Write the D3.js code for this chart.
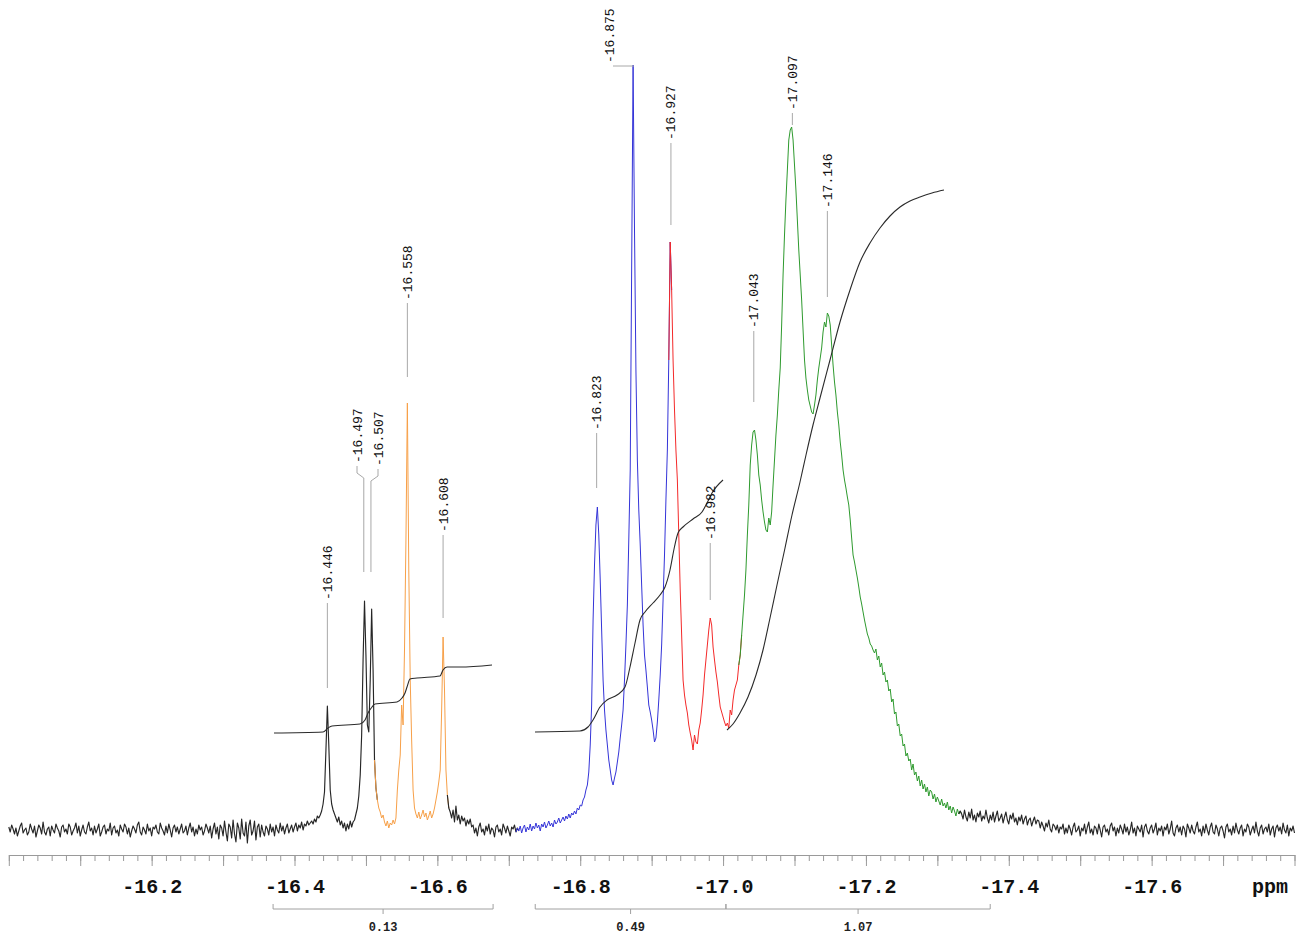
<!DOCTYPE html>
<html><head><meta charset="utf-8">
<script src="https://cdn.jsdelivr.net/npm/d3@7"></script>
<style>body{margin:0;background:#fff}svg{display:block}</style>
</head><body><svg id="c" width="1297" height="934"></svg>
<script>
// ---- data ----
const ppmStart = -16.0, ppmStep = -0.002;
const intensity = [
3,-2,5,1,-4,2,-6,-1,4,7,-3,0,2,-5,-2,6,1,-3,4,-7,
-1,5,2,-4,8,-2,-5,1,3,-6,4,0,-3,6,2,-1,-7,3,5,-2,
1,-4,6,3,-5,-1,2,7,-3,4,-6,0,5,-2,-4,3,8,-1,2,-5,
4,-3,1,6,-6,-2,3,5,-4,1,-1,7,-5,2,4,-3,0,-6,5,1,
-2,6,3,-4,2,-7,-1,4,1,-3,5,8,-2,-5,3,0,-4,6,-1,2,
-6,3,1,5,-2,-4,7,2,-1,-5,4,-3,6,0,-7,2,5,-2,3,-4,
1,6,-3,-1,4,-5,2,7,-2,3,-6,1,-4,5,0,3,-5,-1,6,2,
-3,4,-8,1,7,-4,3,-9,5,2,-6,9,-2,-11,6,3,-8,10,-4,-12,
7,2,-9,11,-3,-6,8,-13,4,10,-5,-1,9,-10,3,6,-7,5,-2,-6,
4,1,-5,6,-2,3,-6,5,0,-3,7,-1,4,-4,2,6,-3,1,5,-2,
3,7,-1,5,2,8,0,6,4,9,5,7,
9,6,11,8,14,12,15,19,26,38,80,124,85,40,26,20,16,12,8,13,5,9,2,7,-1,6,1,9,3,8,
10,16,22,34,55,95,170,229,175,105,98,150,221,160,70,42,30,22,18,
12,15,8,4,9,2,7,5,10,6,12,
40,60,75,125,105,180,290,427,260,150,90,40,22,
16,12,18,11,15,20,13,17,10,14,19,12,16,22,30,
38,48,60,120,193,140,60,35,22,
18,12,20,8,24,10,15,6,14,9,12,4,10,6,11,3,
5,-3,2,-6,3,7,-2,1,-5,4,-1,6,-4,2,0,-7,3,5,-2,1,-5,6,2,-3,4,-1,-6,3,1,5,-2,2,
-1,4,-3,2,5,-2,3,0,6,-1,4,1,7,2,5,-1,6,3,8,2,5,9,4,7,3,10,6,8,12,7,10,13,9,14,11,16,12,17,15,19,16,22,20,25,24,30,33,40,
45,58,85,125,210,265,305,323,295,250,200,150,120,100,85,70,60,50,45,52,58,68,78,92,105,120,
150,185,225,290,360,560,765,600,460,370,320,285,245,205,175,160,143,125,118,110,100,88,92,108,130,155,185,230,275,330,380,470,588,
540,470,420,380,350,295,240,195,150,135,125,117,105,97,90,80,95,88,86,100,107,120,135,155,170,185,200,212,205,183,170,158,148,135,123,118,113,108,104,107,102,120,115,130,140,145,150,165,175,
195,215,235,260,295,325,365,385,398,400,
390,375,355,345,330,318,308,300,298,312,
305,318,345,370,395,415,440,462,505,555,
595,630,660,690,700,703,690,665,640,610,
580,555,530,500,470,452,440,430,424,418,
416,425,435,450,462,472,482,498,508,503,
517,514,505,485,465,448,435,418,405,388,
375,360,350,342,333,325,310,292,275,268,
260,252,243,233,226,218,210,
203,196,192,186,184,180,177,181,170,174,
163,167,155,158,148,150,139,141,128,131,
116,118,104,106,94,96,84,86,74,77,
69,71,60,66,55,58,49,54,44,50,
41,46,38,43,34,40,
38,31,36,28,33,29,25,31,24,27,22,28,20,24,17,23,19,14,21,16,19,
16,11,20,13,9,18,12,21,10,15,8,17,13,19,9,14,11,20,12,7,
15,10,18,8,14,19,9,12,16,7,13,18,10,6,15,11,17,8,12,5,
13,9,15,6,11,14,5,10,12,4,9,13,6,10,
9,2,8,4,-1,7,3,10,1,-2,6,4,0,5,-3,3,1,6,-4,2,
-3,5,1,-5,3,7,-2,0,4,-6,2,-1,6,-4,3,8,-3,1,-5,4,
2,-4,6,0,-7,3,5,-2,1,-5,4,7,-1,3,-6,2,-3,5,1,-4,
6,-2,3,-5,0,8,-3,2,-6,4,1,-2,5,-7,3,6,-1,-4,2,5,
-3,1,7,-5,2,-1,4,-6,3,0,6,-4,1,9,-3,-6,2,5,-2,3,
-5,4,1,-7,6,2,-3,5,-1,-4,3,8,-2,1,-6,4,-3,6,0,-5,
3,7,-2,-4,5,1,-6,2,4,-1,-8,3,6,-2,1,-5,4,-3,7,0,
-4,2,5,-6,1,-2,6,3,-5,0,4,-3,8,-1,-6,2,5,-4,1,3,
-2,6,-5,1,4,-7,2,5,-1,3,-4,7,0,-3,5,-6,2,-1,4,-3
];
// ppm values where the trace colour changes
const colorBreaks = [-16.514, -16.615, -16.712, -16.926, -17.024, -17.332];

const peakPpm    = [-16.446, -16.497, -16.507, -16.558, -16.608, -16.823, -16.875, -16.927, -16.982, -17.043, -17.097, -17.146];
const peakLabels = ["-16.446","-16.497","-16.507","-16.558","-16.608","-16.823","-16.875","-16.927","-16.982","-17.043","-17.097","-17.146"];
const labelPpm   = [-16.446, -16.4875, -16.5169, -16.558, -16.608, -16.823, -16.8403, -16.927, -16.982, -17.043, -17.097, -17.146];
const labelBase  = [230, 367, 364, 530, 298, 400, 767, 690, 290, 502, 720, 622];
const leaderEnd  = [142, 258, 258, 453, 212, 342, 764, 605, 230, 428, 705, 533];

const integral1 = [[-16.3713,97],[-16.4399,98],[-16.4469,102],[-16.4525,104],[-16.4917,106],[-16.4987,110],[-16.5029,117],[-16.5085,123],[-16.5127,126],[-16.5435,128],[-16.5505,132],[-16.5547,137],[-16.5575,143],[-16.5617,151],[-16.5715,152],[-16.6037,154],[-16.6079,160],[-16.6135,163],[-16.6317,163],[-16.6765,165]];
const integral2 = [[-16.7367,98],[-16.7997,99],[-16.8109,103],[-16.8179,110],[-16.8277,123],[-16.8375,130],[-16.8515,135],[-16.8627,143],[-16.8697,163],[-16.8767,187],[-16.8837,210],[-16.8907,218],[-16.9019,227],[-16.9117,235],[-16.9187,243],[-16.9257,260],[-16.9319,283],[-16.9369,297],[-16.9439,303],[-16.9579,311],[-16.9705,318],[-16.9775,327],[-16.9845,337],[-16.9999,350]];
const integral3 = [[-17.0055,100],[-17.0139,106],[-17.0237,117],[-17.0349,133],[-17.0461,155],[-17.0559,180],[-17.0657,212],[-17.0755,245],[-17.0867,282],[-17.0965,315],[-17.1077,348],[-17.1161,375],[-17.1259,405],[-17.1357,432],[-17.1497,470],[-17.1637,508],[-17.1777,540],[-17.1917,568],[-17.2057,587],[-17.2197,602],[-17.2337,614],[-17.2477,623],[-17.2617,629],[-17.2757,633],[-17.2925,637],[-17.3093,640]];

const integralRanges = [[-16.370,-16.678],[-16.737,-17.004],[-17.004,-17.374]];
const integralValues = ["0.13","0.49","1.07"];

const tickLabelValues = [-16.2,-16.4,-16.6,-16.8,-17.0,-17.2,-17.4,-17.6];
const tickLabelText   = ["-16.2","-16.4","-16.6","-16.8","-17.0","-17.2","-17.4","-17.6"];
const axisUnit = "ppm";

// ---- drawing ----
const svg = d3.select("#c");
const x = d3.scaleLinear().domain([-16.0, -17.8]).range([8.8, 1294.5]);
const y = d3.scaleLinear().domain([0, 765]).range([830, 65]);
const MONO = "'Liberation Mono','Courier New',monospace";

const pts = intensity.map((v, i) => [ppmStart + i * ppmStep, v]);
const line = d3.line().x(d => x(d[0])).y(d => y(d[1]));
const bounds = [0.0001 + ppmStart, ...colorBreaks, -99];
const segColors = ["#262626", "#f7a048", "#262626", "#3434d8", "#f42a2a", "#2e9a2e", "#262626"];
for (let k = 0; k < bounds.length - 1; k++) {
  const hi = bounds[k], lo = bounds[k + 1];
  let idx = [];
  pts.forEach((p, i) => { if (p[0] <= hi && p[0] >= lo) idx.push(i); });
  if (!idx.length) continue;
  const a = Math.max(0, idx[0] - 1), b = Math.min(pts.length - 1, idx[idx.length - 1] + 1);
  svg.append("path").attr("d", line(pts.slice(k === 0 ? 0 : a, b + 1)))
    .attr("fill", "none").attr("stroke", segColors[k])
    .attr("stroke-width", segColors[k] === "#262626" ? 1.15 : 1)
    .attr("stroke-linejoin", "round");
}

// integral curves
const iline = d3.line().x(d => x(d[0])).y(d => y(d[1])).curve(d3.curveMonotoneX);
[integral1, integral2, integral3].forEach(arr => {
  svg.append("path").attr("d", iline(arr)).attr("fill", "none")
    .attr("stroke", "#2a2a2a").attr("stroke-width", 1.1);
});

// peak labels
peakPpm.forEach((p, i) => {
  const px = x(p), lx = x(labelPpm[i]);
  const ty = y(labelBase[i]);
  const ey = y(leaderEnd[i]);
  const sy = ty + 3;
  let path;
  if (Math.abs(px - lx) < 0.5) path = [[px, sy], [px, ey]];
  else if (ey <= sy + 1) path = [[lx + 4, ey], [px, ey]];
  else path = [[lx, sy], [lx, sy + 7], [px, sy + 12], [px, ey]];
  svg.append("path").attr("d", d3.line()(path)).attr("fill", "none")
    .attr("stroke", "#a8a8a8").attr("stroke-width", 1);
  svg.append("text").attr("transform", `translate(${lx},${ty}) rotate(-90)`)
    .attr("dy", "0.35em").attr("text-anchor", "start")
    .attr("font-family", MONO).attr("font-size", 13).attr("fill", "#111")
    .text(peakLabels[i]);
});

// axis
const axisY = 855;
const minorTicks = d3.range(0, 91).map(k => -16 - k * 0.02);
const majorTicks = d3.range(0, 19).map(k => -16 - k * 0.1);
const gMinor = svg.append("g").attr("transform", `translate(0,${axisY})`)
  .call(d3.axisBottom(x).tickValues(minorTicks).tickSize(6).tickSizeOuter(0).tickFormat(""));
const gMajor = svg.append("g").attr("transform", `translate(0,${axisY})`)
  .call(d3.axisBottom(x).tickValues(majorTicks).tickSize(11).tickSizeOuter(0).tickFormat(""));
gMajor.select(".domain").remove();
[gMinor, gMajor].forEach(g => {
  g.selectAll("line").attr("stroke", "#9a9a9a");
  g.selectAll(".domain").attr("stroke", "#9a9a9a");
});
const gLab = svg.append("g").attr("transform", `translate(0,${axisY})`)
  .call(d3.axisBottom(x).tickValues(tickLabelValues).tickSize(0).tickPadding(24)
    .tickFormat((d, i) => tickLabelText[i]));
gLab.select(".domain").remove();
gLab.selectAll("text").attr("font-family", MONO).attr("font-size", 20)
  .attr("font-weight", "bold").attr("fill", "#111");
svg.append("text").attr("x", 1270).attr("y", 893).attr("text-anchor", "middle")
  .attr("font-family", MONO).attr("font-size", 20).attr("font-weight", "bold")
  .attr("fill", "#111").text(axisUnit);

// integral brackets
const by = 909;
integralRanges.forEach((r, i) => {
  const x0 = x(r[0]), x1 = x(r[1]), xm = (x0 + x1) / 2;
  svg.append("path").attr("d", `M${x0},${by - 5}V${by}H${x1}V${by - 5}M${xm},${by}V${by + 5}`)
    .attr("fill", "none").attr("stroke", "#a0a0a0").attr("stroke-width", 1);
  svg.append("text").attr("x", xm).attr("y", 931).attr("text-anchor", "middle")
    .attr("font-family", MONO).attr("font-size", 12).attr("font-weight", "bold")
    .attr("fill", "#222").text(integralValues[i]);
});
</script></body></html>
